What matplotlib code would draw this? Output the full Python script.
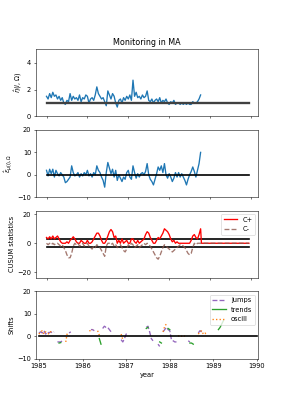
import numpy as np
import matplotlib
matplotlib.use("Agg")
import matplotlib.pyplot as plt

nan = np.nan

# ---- data (upper panels: biweekly from 1985.0) ----
eta = [1.5, 1.3, 1.7, 1.4, 1.8, 1.5, 1.6, 1.3, 1.5, 1.2, 1.4, 1.0, 0.9,
       1.2, 1.1, 1.7, 1.2, 1.5, 1.3, 1.4, 1.2, 1.6, 1.1, 1.4, 1.3, 1.6,
       1.5, 1.0, 1.3, 1.4, 1.2, 1.6, 2.2, 1.7, 1.5, 1.3, 1.4, 1.1, 0.8,
       1.9, 1.6, 1.3, 1.7, 1.5, 1.0, 0.7, 1.2, 1.3, 1.0, 1.4, 1.2, 1.5,
       1.3, 1.6, 1.2, 2.7, 1.5, 1.8, 1.4, 1.5, 1.3, 1.6, 1.4, 1.5, 1.9,
       1.2, 1.1, 1.3, 1.0, 1.2, 1.3, 1.1, 1.4, 1.0, 1.2, 1.1, 1.3, 1.0,
       0.9, 1.1, 1.0, 1.2, 0.9, 1.0, 1.0, 0.9, 1.0, 0.9, 1.0, 0.9, 1.0,
       0.9, 0.9, 1.1, 1.0, 1.0, 1.1, 1.3, 1.6]

eps = [2.0, -0.5, 2.5, 0.5, 2.5, -1.0, 2.0, 0.5, -0.5, 1.0, 0.0, -1.0,
       -3.5, -3.0, -2.0, -1.0, 4.0, 1.0, -0.5, 0.0, 1.0, -1.0, 0.5, -0.5, 1.0, 0.0,
       2.0, -0.5, 0.5, -1.0, 1.0, 0.0, 4.0, 2.0, 1.0, -1.0, -2.5, -5.5,
       1.0, 5.5, 3.0, 0.5, 2.5, -1.0, 2.0, -2.5, 0.0, -1.5, -3.0, -1.0, -2.0, 1.0,
       2.0, -1.0, -2.0, 4.0, 1.0, -1.5, 0.5, -1.0, 0.5, 1.0, 0.0, 1.5, 5.0,
       0.0, -2.0, -3.0, -4.5, -2.0, 0.5, 3.5, 2.0, 4.0, 1.0, 5.0, 0.0, -1.5,
       0.5, -1.0, -3.0, -1.5, 1.0, -1.0, 1.0, -1.0, 0.5, -1.0, -2.5, -4.5, -2.0,
       0.0, 1.5, 3.5, 1.5, -1.0, 2.0, 5.0, 10.0]

c_plus = [4, 3, 4.5, 3, 5, 3, 4, 5, 3, 1, 0, 0, 0, 1, 0, 2, 3, 4.5, 3, 1, 0, 0, 2, 1, 0, 0,
          2, 0, 0, 1, 3, 5, 7, 7, 5, 2, 0, 0, 2, 5, 8, 9.5, 8, 4, 5, 0, 2, 0, 3, 0, 1,
          2, 0, 0, 3, 3, 1, 0, 2, 0, 1, 2, 3, 6, 8, 7, 4, 2, 0, 0, 2, 4, 3, 5, 7, 10, 9, 8,
          6, 3, 1, 2, 0, 1, 0, 0, 0, 0, 0, 0, 0, 0, 2, 5, 6, 4, 3, 6, 10]

c_minus = [0, -1, 0, -1, 0, -1, 0, 0, -1, -2, -1, -3, -5, -8, -10, -10, -7, -2, 0, -1, 0, -2, -1, 0, -2, -1,
           0, -2, -3, -4, -2, -3, -1, -2, -3, -5, -7, -9, -2, 0, 0, -1, 0, -2, -1, -3, -2, -1, -3, -5, -6, -4,
           -1, -2, 0, -1, -3, -2, -1, -3, -2, -1, 0, -1, 0,
           -1, -2, -4, -6, -8, -10, -11, -9, -6, -3, -1, -2, -3,
           -4, -5, -6, -5, -4, -3, -2, -1, -1, -2, -3, -5, -7, -8, -7, -3, 0, -1, 0, 0, 0]

# ---- data (shift panel: biweekly from 1985.0) ----
jumps = [1.5, 2.0, 1.5, 2.5, 1.0, 2.0, 1.5, 2.0, 1.5, 2.0, nan, -2.5, -2.5, -2.5, -2.0, nan, nan, nan, 1.5, 2.0,
         nan, nan, nan, nan, nan, nan, nan, nan, nan, nan, nan, 3.0, 3.0, 2.5, nan, nan, nan, nan, 3.5, 4.5,
         4.0, 4.0, 3.0, 2.0, 2.0, nan, nan, nan, nan, -1.5, -2.5, -1.0, 1.0, 1.5, nan, nan, nan, nan, nan, nan,
         nan, -0.5, nan, nan, 4.0, 4.5, 2.0, -1.0, -2.0, nan, nan, -3.5, -4.5, nan, 2.0, 3.0, 4.0, 3.0, 2.5, -1.5,
         -2.0, -2.5, -2.5, nan, nan, nan, nan, nan, nan, -2.0, -2.5, nan, -3.0, nan, nan, 1.5, 2.5, 2.0, nan, nan,
         nan, nan, nan, nan, nan, nan, nan, nan, nan, nan, nan]

trends = [nan, nan, nan, nan, nan, nan, nan, nan, nan, nan, nan, nan, -3.0, -2.8, nan, nan, nan, nan, nan, nan,
          nan, nan, nan, nan, nan, nan, nan, nan, nan, nan, nan, nan, nan, nan, nan, nan, -1.0, -3.5, nan, nan,
          nan, nan, nan, nan, nan, nan, nan, nan, nan, nan, nan, nan, nan, nan, nan, nan, nan, nan, nan, nan,
          nan, nan, nan, nan, 3.5, 4.0, nan, nan, nan, nan, nan, nan, -2.5, -3.0, nan, nan, nan, 3.5, 3.0, nan,
          nan, nan, nan, nan, nan, nan, nan, nan, nan, nan, -3.0, -3.0, -3.5, nan, nan, nan, nan, nan, nan, nan,
          nan, nan, nan, nan, nan, nan, nan, 3.0, 4.0, 5.5, 7.0]

oscill = [1.0, 2.0, 2.5, 1.0, 2.0, 1.5, 1.0, 2.0, 2.5, nan, nan, nan, nan, nan, nan, nan, -2.5, 2.0, nan, nan,
          nan, nan, nan, nan, nan, nan, nan, nan, nan, nan, 2.5, 2.5, 3.0, nan, nan, 2.5, 0.5, nan, nan, nan,
          nan, nan, nan, nan, nan, nan, nan, nan, nan, 1.0, -1.5, nan, nan, nan, nan, nan, nan, nan, nan, nan,
          nan, nan, nan, nan, nan, nan, nan, nan, nan, nan, nan, nan, nan, nan, 2.0, 4.5, 5.5, nan, nan, nan,
          -1.5, nan, nan, 0.0, 0.5, 0.0, 0.5, 0.0, nan, nan, nan, nan, nan, nan, nan, 1.0, 2.0, 2.5, 1.0, 1.5,
          0.5, nan, nan, nan, nan, nan, nan, nan, nan, nan, nan]

start_year = 1985.0
end_year = 1989.95
cusum_h = 2.8
years = [1985, 1986, 1987, 1988, 1989, 1990]

t1 = start_year + np.arange(len(eta)) / 26.0
t4 = start_year + np.arange(len(jumps)) / 26.0

scale = 287 / 6.0
fig, axes = plt.subplots(4, 1, figsize=(6, 410 / scale))
fig.subplots_adjust(left=0.125, right=0.9, top=0.88, bottom=0.125, hspace=0.2)

ax1, ax2, ax3, ax4 = axes
lw = 2.0

ax1.plot(t1, eta, color='tab:blue', lw=lw)
ax1.plot([start_year, end_year], [1, 1], color='0.25', lw=3.5)
ax1.set_ylim(0, 5)
ax1.set_yticks([0, 2, 4])
ax1.set_ylabel(r'$\hat{\eta}(i,\Omega)$')
ax1.set_title('Monitoring in MA')

ax2.plot(t1, eps, color='tab:blue', lw=lw)
ax2.plot([start_year, end_year], [0, 0], color='k', lw=2.5)
ax2.set_ylim(-10, 20)
ax2.set_yticks([-10, 0, 10, 20])
ax2.set_ylabel(r'$\hat{\epsilon}_{\mu(i),\Omega}$')

tc = np.append(t1, [t1[-1] + 0.02, end_year])
cp = list(c_plus) + [0, 0]
cm = list(c_minus) + [0, 0]
ax3.plot([start_year, end_year], [cusum_h, cusum_h], color='k', lw=2.5)
ax3.plot([start_year, end_year], [-cusum_h, -cusum_h], color='k', lw=2.5)
ax3.plot(tc, cp, color='red', lw=lw, label='C+')
ax3.plot(tc, cm, color='tab:brown', ls='--', lw=lw, alpha=0.8, label='C-')
ax3.set_ylim(-24, 22.5)
ax3.set_yticks([-20, 0, 20])
ax3.set_ylabel('CUSUM statistics')
ax3.legend(loc='upper right')

for ax in (ax1, ax2, ax3):
    ax.set_xlim(1984.74, 1990.18)
    ax.set_xticks(years)
    ax.set_xticklabels([])

ax4.plot(t4, jumps, color='tab:purple', ls='--', lw=lw, label='jumps')
ax4.plot(t4, trends, color='tab:green', ls='-', lw=lw, label='trends')
ax4.plot(t4, oscill, color='tab:orange', ls=':', lw=lw, label='oscill')
ax4.plot([1985, 1990], [0, 0], color='k', lw=2.5)
ax4.set_xlim(1984.93, 1990.03)
ax4.set_xticks(years)
ax4.set_xticklabels([str(y) for y in years])
ax4.set_ylim(-10, 20)
ax4.set_yticks([-10, 0, 10, 20])
ax4.set_ylabel('Shifts')
ax4.set_xlabel('year')
ax4.legend(loc='upper right')

fig.savefig('out.png', dpi=scale)
